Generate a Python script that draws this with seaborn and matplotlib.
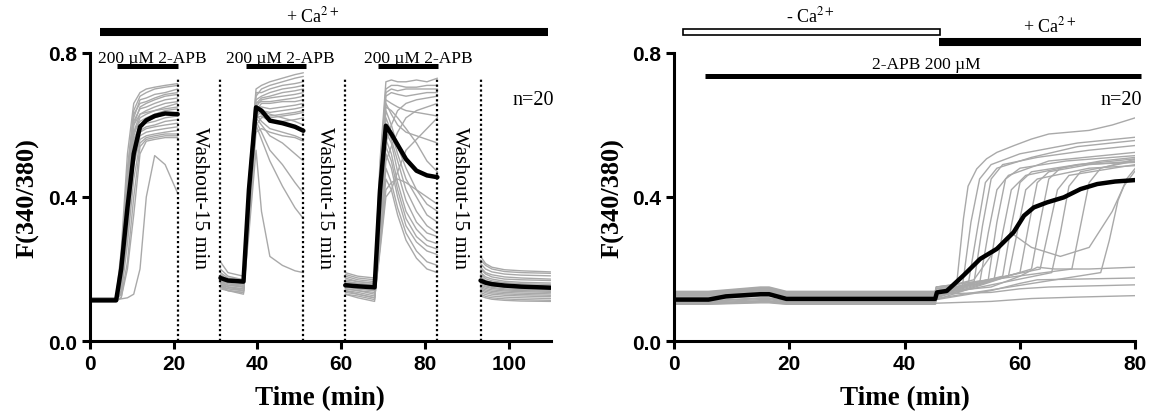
import matplotlib
matplotlib.use("Agg")
import matplotlib.pyplot as plt
from matplotlib.patches import Rectangle
import pandas as pd
import seaborn as sns

# ---------------- left panel: three 2-APB pulses in + Ca2+ ----------------
seg1_t = [0, 6.3, 7.5, 9, 10.5, 12, 13.5, 15.5, 18, 21]
seg1_mean = [0.113, 0.113, 0.20, 0.37, 0.52, 0.595, 0.613, 0.625, 0.632, 0.63]
seg1_cells = [
    [0.12, 0.12, 0.25, 0.52, 0.66, 0.69, 0.70, 0.705, 0.71, 0.715],
    [0.115, 0.115, 0.22, 0.48, 0.64, 0.68, 0.69, 0.70, 0.705, 0.71],
    [0.12, 0.12, 0.20, 0.45, 0.62, 0.67, 0.675, 0.685, 0.69, 0.70],
    [0.11, 0.11, 0.21, 0.47, 0.63, 0.66, 0.665, 0.675, 0.685, 0.69],
    [0.12, 0.12, 0.18, 0.42, 0.60, 0.65, 0.66, 0.67, 0.68, 0.685],
    [0.115, 0.115, 0.19, 0.44, 0.61, 0.645, 0.65, 0.66, 0.67, 0.675],
    [0.11, 0.11, 0.17, 0.40, 0.58, 0.63, 0.64, 0.65, 0.66, 0.665],
    [0.12, 0.12, 0.20, 0.43, 0.60, 0.63, 0.635, 0.64, 0.65, 0.66],
    [0.115, 0.115, 0.16, 0.38, 0.57, 0.62, 0.63, 0.64, 0.645, 0.65],
    [0.11, 0.11, 0.18, 0.41, 0.58, 0.61, 0.62, 0.63, 0.64, 0.645],
    [0.12, 0.12, 0.15, 0.36, 0.55, 0.60, 0.61, 0.62, 0.63, 0.635],
    [0.115, 0.115, 0.17, 0.39, 0.56, 0.60, 0.605, 0.61, 0.62, 0.625],
    [0.11, 0.11, 0.14, 0.33, 0.52, 0.585, 0.595, 0.60, 0.61, 0.615],
    [0.12, 0.12, 0.16, 0.35, 0.53, 0.58, 0.59, 0.595, 0.60, 0.605],
    [0.115, 0.115, 0.13, 0.30, 0.50, 0.57, 0.58, 0.585, 0.59, 0.595],
    [0.11, 0.11, 0.14, 0.31, 0.49, 0.56, 0.57, 0.575, 0.58, 0.585],
    [0.12, 0.12, 0.13, 0.27, 0.45, 0.55, 0.565, 0.57, 0.575, 0.575],
    [0.115, 0.115, 0.12, 0.22, 0.40, 0.54, 0.56, 0.565, 0.57, 0.57],
    [0.11, 0.11, 0.12, 0.20, 0.35, 0.52, 0.555, 0.56, 0.565, 0.565],
    [0.115, 0.115, 0.117, 0.12, 0.13, 0.20, 0.40, 0.515, 0.49, 0.41],
]

seg2_t = [31.2, 33, 36.7, 38, 39.7, 41, 43, 46, 49, 51]
seg2_mean = [0.175, 0.168, 0.165, 0.42, 0.649, 0.64, 0.612, 0.605, 0.595, 0.584]
seg2_cells = [
    [0.22, 0.19, 0.18, 0.45, 0.70, 0.71, 0.72, 0.73, 0.74, 0.745],
    [0.20, 0.18, 0.17, 0.42, 0.68, 0.70, 0.71, 0.72, 0.73, 0.735],
    [0.19, 0.175, 0.17, 0.44, 0.69, 0.69, 0.70, 0.71, 0.715, 0.72],
    [0.18, 0.17, 0.165, 0.40, 0.67, 0.68, 0.69, 0.70, 0.705, 0.71],
    [0.185, 0.17, 0.16, 0.43, 0.66, 0.675, 0.68, 0.69, 0.695, 0.70],
    [0.17, 0.165, 0.16, 0.38, 0.65, 0.67, 0.675, 0.68, 0.685, 0.69],
    [0.175, 0.165, 0.16, 0.41, 0.66, 0.665, 0.665, 0.67, 0.675, 0.68],
    [0.17, 0.16, 0.155, 0.37, 0.64, 0.66, 0.66, 0.665, 0.665, 0.67],
    [0.165, 0.16, 0.155, 0.39, 0.65, 0.65, 0.645, 0.65, 0.655, 0.66],
    [0.17, 0.16, 0.15, 0.36, 0.63, 0.64, 0.635, 0.64, 0.645, 0.65],
    [0.16, 0.155, 0.15, 0.40, 0.64, 0.63, 0.62, 0.625, 0.63, 0.635],
    [0.165, 0.155, 0.15, 0.35, 0.62, 0.625, 0.61, 0.61, 0.615, 0.62],
    [0.16, 0.15, 0.145, 0.38, 0.63, 0.61, 0.59, 0.58, 0.57, 0.56],
    [0.16, 0.15, 0.145, 0.36, 0.62, 0.60, 0.57, 0.55, 0.52, 0.50],
    [0.155, 0.15, 0.14, 0.37, 0.61, 0.58, 0.53, 0.49, 0.44, 0.41],
    [0.155, 0.145, 0.14, 0.34, 0.60, 0.56, 0.50, 0.43, 0.37, 0.34],
    [0.15, 0.14, 0.135, 0.30, 0.53, 0.36, 0.235, 0.21, 0.195, 0.19],
    [0.15, 0.14, 0.135, 0.36, 0.62, 0.64, 0.63, 0.62, 0.61, 0.60],
    [0.145, 0.14, 0.13, 0.32, 0.60, 0.62, 0.625, 0.63, 0.635, 0.64],
    [0.15, 0.145, 0.14, 0.33, 0.58, 0.59, 0.58, 0.57, 0.565, 0.555],
]

seg3_t = [61, 64, 68, 69.3, 70.7, 72, 73.5, 75.5, 78, 80.5, 83]
seg3_mean = [0.155, 0.152, 0.149, 0.42, 0.598, 0.575, 0.545, 0.505, 0.473, 0.46, 0.455]
seg3_cells = [
    [0.19, 0.18, 0.175, 0.50, 0.72, 0.725, 0.72, 0.72, 0.725, 0.72, 0.73],
    [0.185, 0.175, 0.17, 0.48, 0.70, 0.71, 0.71, 0.705, 0.705, 0.71, 0.71],
    [0.18, 0.17, 0.165, 0.46, 0.69, 0.70, 0.695, 0.70, 0.70, 0.70, 0.70],
    [0.175, 0.165, 0.16, 0.45, 0.68, 0.69, 0.685, 0.68, 0.685, 0.69, 0.69],
    [0.17, 0.165, 0.16, 0.44, 0.67, 0.66, 0.65, 0.64, 0.635, 0.63, 0.625],
    [0.165, 0.16, 0.155, 0.43, 0.66, 0.63, 0.60, 0.58, 0.57, 0.56, 0.55],
    [0.165, 0.16, 0.155, 0.42, 0.65, 0.64, 0.62, 0.59, 0.55, 0.50, 0.47],
    [0.16, 0.155, 0.15, 0.41, 0.64, 0.60, 0.54, 0.48, 0.42, 0.38, 0.36],
    [0.16, 0.155, 0.15, 0.40, 0.62, 0.58, 0.52, 0.45, 0.40, 0.35, 0.33],
    [0.155, 0.15, 0.145, 0.38, 0.60, 0.56, 0.50, 0.42, 0.36, 0.32, 0.30],
    [0.155, 0.15, 0.145, 0.37, 0.58, 0.55, 0.47, 0.39, 0.33, 0.30, 0.29],
    [0.15, 0.145, 0.14, 0.36, 0.56, 0.52, 0.44, 0.36, 0.31, 0.28, 0.27],
    [0.15, 0.145, 0.14, 0.34, 0.54, 0.50, 0.42, 0.34, 0.29, 0.265, 0.255],
    [0.145, 0.14, 0.135, 0.33, 0.52, 0.48, 0.40, 0.32, 0.275, 0.25, 0.24],
    [0.145, 0.14, 0.13, 0.30, 0.48, 0.44, 0.37, 0.30, 0.25, 0.22, 0.21],
    [0.14, 0.135, 0.125, 0.28, 0.45, 0.42, 0.35, 0.28, 0.23, 0.20, 0.19],
    [0.14, 0.13, 0.12, 0.26, 0.42, 0.44, 0.45, 0.44, 0.42, 0.40, 0.38],
    [0.135, 0.13, 0.12, 0.25, 0.40, 0.42, 0.47, 0.53, 0.56, 0.59, 0.62],
    [0.13, 0.125, 0.115, 0.27, 0.50, 0.54, 0.58, 0.62, 0.64, 0.65, 0.66],
    [0.13, 0.12, 0.11, 0.30, 0.55, 0.60, 0.64, 0.66, 0.67, 0.675, 0.68],
]

seg4_t = [93.3, 94.5, 96, 99, 103, 110]
seg4_mean = [0.168, 0.162, 0.158, 0.154, 0.151, 0.148]
seg4_cells = [
    [0.235, 0.215, 0.205, 0.198, 0.195, 0.192],
    [0.225, 0.21, 0.20, 0.193, 0.19, 0.188],
    [0.215, 0.20, 0.192, 0.186, 0.183, 0.181],
    [0.205, 0.19, 0.184, 0.178, 0.175, 0.172],
    [0.20, 0.186, 0.178, 0.172, 0.17, 0.168],
    [0.19, 0.178, 0.172, 0.166, 0.163, 0.161],
    [0.185, 0.173, 0.167, 0.162, 0.159, 0.157],
    [0.178, 0.168, 0.163, 0.158, 0.155, 0.153],
    [0.172, 0.164, 0.159, 0.155, 0.152, 0.15],
    [0.168, 0.16, 0.156, 0.152, 0.149, 0.147],
    [0.165, 0.157, 0.153, 0.149, 0.146, 0.144],
    [0.16, 0.153, 0.149, 0.145, 0.143, 0.141],
    [0.156, 0.15, 0.146, 0.142, 0.14, 0.138],
    [0.152, 0.146, 0.142, 0.139, 0.137, 0.135],
    [0.148, 0.142, 0.138, 0.135, 0.133, 0.131],
    [0.144, 0.138, 0.134, 0.131, 0.129, 0.127],
    [0.14, 0.134, 0.13, 0.127, 0.125, 0.123],
    [0.135, 0.129, 0.125, 0.122, 0.12, 0.118],
    [0.13, 0.124, 0.12, 0.117, 0.115, 0.113],
    [0.125, 0.12, 0.116, 0.113, 0.111, 0.11],
]

washout_lines = [21, 31.2, 51, 61, 83, 93.3]
apb_bars = [(6.6, 21.0), (37.4, 51.7), (68.7, 83.1)]
apb_label_x = [14.9, 45.5, 78.4]
washout_x = [26.1, 56.0, 88.2]

# ---------------- right panel: 2-APB in - Ca2+ then + Ca2+ ----------------
base_t = [0, 6, 15, 16.5, 19.5, 45.3]
right_base = [0.138, 0.118, 0.134, 0.106, 0.128, 0.136, 0.112, 0.125, 0.103, 0.132,
              0.12, 0.108, 0.13, 0.116, 0.135, 0.11, 0.122, 0.105, 0.126, 0.102]
right_bump = [0.15, 0.128, 0.146, 0.112, 0.14, 0.148, 0.12, 0.136, 0.108, 0.144,
              0.13, 0.115, 0.142, 0.125, 0.147, 0.118, 0.132, 0.11, 0.137, 0.106]

rise_t = [
    [45.5, 49, 50.2, 51, 52.5, 54.2, 56, 59, 62, 65, 72, 76, 80],
    [45.5, 50, 51.5, 53, 55, 60, 70, 80],
    [45.5, 51, 52.5, 54, 56, 62, 70, 80],
    [45.5, 52, 53.5, 55, 57, 63, 72, 80],
    [45.5, 53, 54.5, 56, 58, 65, 80],
    [45.5, 54.5, 56, 57.5, 60, 68, 80],
    [45.5, 55.5, 57, 58.5, 61, 70, 80],
    [45.5, 57, 58.5, 60, 62, 70, 80],
    [45.5, 58, 59.5, 61, 63, 72, 80],
    [45.5, 52, 56, 58.5, 62, 67, 72, 76, 78, 80],
    [45.5, 60, 61.5, 63, 65, 72, 80],
    [45.5, 62, 63.5, 65, 67, 74, 80],
    [45.5, 63.5, 65, 66.5, 68.5, 80],
    [45.5, 65.5, 67, 68.5, 70.5, 80],
    [45.5, 69, 70.5, 72, 74, 80],
    [45.5, 74, 75.5, 77, 78.5, 80],
    [45.5, 55, 60, 63, 66, 72, 80],
    [45.5, 55, 60, 63, 70, 80],
    [45.5, 55, 60, 65, 72, 80],
    [45.5, 55, 62, 70, 80],
]
rise_y = [
    [0.15, 0.155, 0.34, 0.43, 0.478, 0.506, 0.524, 0.543, 0.561, 0.575, 0.585, 0.6, 0.62],
    [0.135, 0.15, 0.33, 0.45, 0.49, 0.52, 0.55, 0.566],
    [0.145, 0.155, 0.30, 0.44, 0.48, 0.51, 0.54, 0.557],
    [0.12, 0.16, 0.32, 0.45, 0.49, 0.51, 0.53, 0.543],
    [0.14, 0.16, 0.30, 0.42, 0.46, 0.50, 0.524],
    [0.15, 0.17, 0.33, 0.45, 0.48, 0.50, 0.515],
    [0.125, 0.17, 0.30, 0.42, 0.46, 0.49, 0.506],
    [0.135, 0.18, 0.32, 0.44, 0.47, 0.49, 0.496],
    [0.115, 0.18, 0.30, 0.42, 0.45, 0.48, 0.487],
    [0.145, 0.17, 0.26, 0.30, 0.26, 0.235, 0.26, 0.36, 0.43, 0.473],
    [0.13, 0.19, 0.32, 0.44, 0.47, 0.49, 0.50],
    [0.12, 0.20, 0.33, 0.45, 0.48, 0.50, 0.51],
    [0.14, 0.20, 0.31, 0.42, 0.46, 0.49],
    [0.125, 0.19, 0.30, 0.43, 0.47, 0.50],
    [0.15, 0.20, 0.32, 0.44, 0.48, 0.505],
    [0.118, 0.19, 0.28, 0.39, 0.45, 0.48],
    [0.135, 0.15, 0.18, 0.205, 0.20, 0.20, 0.205],
    [0.115, 0.14, 0.16, 0.17, 0.172, 0.175],
    [0.13, 0.135, 0.145, 0.15, 0.153, 0.156],
    [0.105, 0.11, 0.118, 0.122, 0.126],
]

right_mean_t = [0, 6, 9, 15, 16.5, 19.5, 45.3, 45.6, 47.3, 50.2, 53.1, 56, 58.9,
                60.7, 62.4, 64.7, 67.6, 70.5, 73.4, 76.5, 80]
right_mean_y = [0.115, 0.115, 0.124, 0.13, 0.13, 0.117, 0.117, 0.135, 0.139, 0.182,
                0.228, 0.256, 0.302, 0.348, 0.371, 0.385, 0.399, 0.422, 0.436, 0.443, 0.447]


def long_table(times, rows, tag):
    recs = []
    for i, row in enumerate(rows):
        for t, v in zip(times, row):
            recs.append((f"{tag}-{i}", t, v))
    return recs


left_cells = []
left_mean = []
for k, (t, rows, m) in enumerate([(seg1_t, seg1_cells, seg1_mean),
                                  (seg2_t, seg2_cells, seg2_mean),
                                  (seg3_t, seg3_cells, seg3_mean),
                                  (seg4_t, seg4_cells, seg4_mean)]):
    left_cells += long_table(t, rows, f"s{k}")
    left_mean += long_table(t, [m], f"m{k}")
df_left = pd.DataFrame(left_cells, columns=["cell", "time", "ratio"])
df_left_mean = pd.DataFrame(left_mean, columns=["cell", "time", "ratio"])

right_cells = []
for i in range(len(right_base)):
    b, k = right_base[i], right_bump[i]
    ys = [b, b, k, k, b, b] + rise_y[i]
    ts = base_t + rise_t[i]
    right_cells += [(f"r{i}", t, v) for t, v in zip(ts, ys)]
df_right = pd.DataFrame(right_cells, columns=["cell", "time", "ratio"])
df_right_mean = pd.DataFrame({"time": right_mean_t, "ratio": right_mean_y})

# ---------------- figure ----------------
sns.set_theme(style="ticks")
plt.rcParams["font.family"] = ["Liberation Serif", "DejaVu Serif"]
plt.rcParams["mathtext.fontset"] = "stix"
plt.rcParams["text.color"] = "black"
plt.rcParams["axes.labelcolor"] = "black"

GRAY = "#a9a9a9"
serif = "Liberation Serif"
sans = "Liberation Sans"

fig = plt.figure(figsize=(11.58, 4.14), dpi=100)
ax1 = fig.add_axes([0.0775, 0.1739, 0.3979, 0.6957])
ax2 = fig.add_axes([0.582, 0.1739, 0.3984, 0.6957])

sns.lineplot(data=df_left, x="time", y="ratio", units="cell", estimator=None,
             color=GRAY, lw=1.0, ax=ax1, legend=False)
sns.lineplot(data=df_left_mean, x="time", y="ratio", units="cell", estimator=None,
             color="black", lw=3.2, ax=ax1, legend=False)

sns.lineplot(data=df_right, x="time", y="ratio", units="cell", estimator=None,
             color=GRAY, lw=1.0, ax=ax2, legend=False)
sns.lineplot(data=df_right_mean, x="time", y="ratio", color="black", lw=3.2,
             ax=ax2, legend=False)

for ax, xmax, xticks in [(ax1, 110, [0, 20, 40, 60, 80, 100]), (ax2, 80, [0, 20, 40, 60, 80])]:
    ax.set_xlim(0, xmax)
    ax.set_ylim(0, 0.8)
    ax.set_xticks(xticks)
    ax.set_yticks([0.0, 0.4, 0.8])
    ax.set_yticklabels(["0.0", "0.4", "0.8"])
    sns.despine(ax=ax)
    for s in ["left", "bottom"]:
        ax.spines[s].set_linewidth(2.2)
        ax.spines[s].set_color("black")
    ax.tick_params(direction="out", length=6, width=2.2, colors="black", pad=3)
    for lab in ax.get_xticklabels() + ax.get_yticklabels():
        lab.set_fontfamily(sans)
        lab.set_fontweight("bold")
        lab.set_fontsize(15)
    ax.set_xlabel("Time (min)", fontfamily=serif, fontweight="bold", fontsize=19.5,
                  labelpad=9, color="black")
    ax.set_ylabel("F(340/380)", fontfamily=serif, fontweight="bold", fontsize=19,
                  labelpad=6, color="black")
    ax.grid(False)

# left panel annotations
for x in washout_lines:
    ax1.plot([x, x], [0, 0.73], ls=(0, (1, 1.2)), lw=1.6, color="black")
ax1.plot([2.4, 109.3], [0.858, 0.858], lw=5.8, color="black", solid_capstyle="butt", clip_on=False)
ax1.text(53.2, 0.904, "+ Ca$^{2+}$", ha="center", va="center", fontsize=13, fontfamily=serif)
for (x0, x1), lx in zip(apb_bars, apb_label_x):
    ax1.plot([x0, x1], [0.764, 0.764], lw=3.6, color="black", solid_capstyle="butt", clip_on=False)
    ax1.text(lx, 0.785, "200 µM 2-APB", ha="center", va="center", fontsize=12.5, fontfamily=serif)
for x in washout_x:
    ax1.text(x, 0.40, "Washout-15 min", rotation=270, ha="center", va="center",
             fontsize=15.5, fontfamily=serif)
ax1.text(105.9, 0.672, "n=20", ha="center", va="center", fontsize=14.5, fontfamily=serif)

# right panel annotations
ax2.add_patch(Rectangle((1.65, 0.85), 44.45, 0.0167, facecolor="white", edgecolor="black",
                        lw=1.2, clip_on=False))
ax2.text(23.7, 0.904, "- Ca$^{2+}$", ha="center", va="center", fontsize=13, fontfamily=serif)
ax2.plot([45.9, 81], [0.83, 0.83], lw=5.8, color="black", solid_capstyle="butt", clip_on=False)
ax2.text(65.2, 0.876, "+ Ca$^{2+}$", ha="center", va="center", fontsize=13, fontfamily=serif)
ax2.plot([5.35, 81], [0.736, 0.736], lw=3.6, color="black", solid_capstyle="butt", clip_on=False)
ax2.text(43.8, 0.769, "2-APB 200 µM", ha="center", va="center", fontsize=12.5, fontfamily=serif)
ax2.text(77.6, 0.672, "n=20", ha="center", va="center", fontsize=14.5, fontfamily=serif)

fig.savefig("out.png", dpi=100)
